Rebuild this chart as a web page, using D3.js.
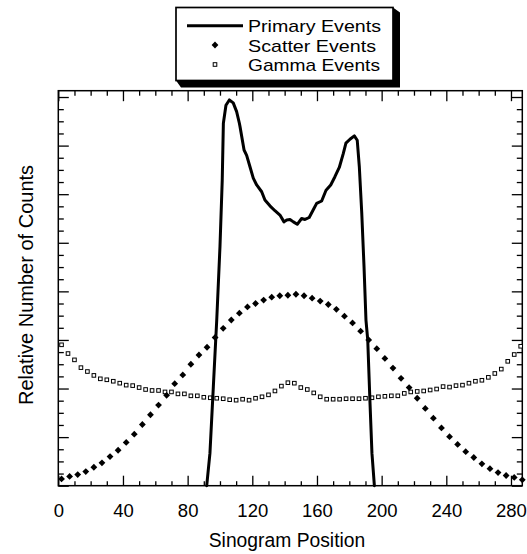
<!DOCTYPE html>
<html>
<head>
<meta charset="utf-8">
<script src="https://cdn.jsdelivr.net/npm/d3@7"></script>
<style>
  html, body { margin: 0; padding: 0; background: #fff; }
  svg { display: block; }
  text { font-family: "Liberation Sans", Arial, Helvetica, sans-serif; fill: #000; }
</style>
</head>
<body>
<svg id="chart" width="527" height="554"></svg>
<script>
// ---- data (y in relative units) ----
const primaryX = [91.8, 93.8, 95.9, 98, 100, 101.4, 102.1, 103.7, 105.8, 108.2, 110.3, 112, 112.4, 114.9, 116.5, 118.6, 120.6, 122.7, 125.8, 127.8, 130.9, 134, 137.1, 139.6, 141.3, 143.3, 145.4, 147.8, 150.5, 152.6, 155.2, 158.2, 159.8, 162.9, 165.6, 168.5, 171.1, 173.8, 176.3, 177.9, 180.4, 183.1, 184.9, 186.2, 187.7, 189.1, 190.3, 191.4, 192.8, 194, 195.5];
const primaryY = [0, 0.67, 2.04, 3.41, 4.92, 6.29, 7.46, 7.83, 7.94, 7.88, 7.70, 7.46, 7.39, 6.91, 6.80, 6.56, 6.33, 6.19, 6.05, 5.88, 5.76, 5.66, 5.57, 5.43, 5.47, 5.48, 5.43, 5.38, 5.50, 5.48, 5.52, 5.71, 5.81, 5.86, 6.08, 6.19, 6.36, 6.55, 6.84, 7.05, 7.13, 7.20, 7.11, 6.56, 5.61, 4.51, 3.41, 3.00, 1.70, 0.67, 0];

const scatterX = [2, 7, 12, 17, 22, 27, 32, 37, 42, 47, 52, 57, 62, 67, 72, 77, 82, 87, 92, 97, 102, 107, 112, 117, 122, 127, 132, 137, 142, 147, 152, 157, 162, 167, 172, 177, 182, 187, 192, 197, 202, 207, 212, 217, 222, 227, 232, 237, 242, 247, 252, 257, 262, 267, 272, 277, 282, 287];
const scatterY = [0.14, 0.19, 0.23, 0.29, 0.38, 0.47, 0.60, 0.73, 0.89, 1.06, 1.26, 1.46, 1.66, 1.86, 2.10, 2.28, 2.50, 2.69, 2.85, 3.05, 3.24, 3.41, 3.55, 3.68, 3.75, 3.82, 3.88, 3.91, 3.92, 3.94, 3.91, 3.86, 3.80, 3.73, 3.63, 3.49, 3.35, 3.18, 3.00, 2.82, 2.62, 2.42, 2.21, 2.02, 1.80, 1.59, 1.39, 1.19, 1.01, 0.85, 0.70, 0.58, 0.45, 0.35, 0.27, 0.21, 0.17, 0.12];

const gammaX = [2, 6, 10, 14, 18, 22, 26, 30, 34, 38, 42, 46, 50, 54, 58, 62, 66, 70, 74, 78, 82, 86, 90, 94, 98, 102, 106, 110, 114, 118, 122, 126, 130, 134, 138, 142, 146, 150, 154, 158, 162, 166, 170, 174, 178, 182, 186, 190, 194, 198, 202, 206, 210, 214, 218, 222, 226, 230, 234, 238, 242, 246, 250, 254, 258, 262, 266, 270, 274, 278, 282, 286];
const gammaY = [2.90, 2.72, 2.59, 2.43, 2.35, 2.27, 2.20, 2.18, 2.15, 2.11, 2.07, 2.06, 2.02, 1.98, 1.96, 1.96, 1.93, 1.93, 1.89, 1.89, 1.85, 1.85, 1.82, 1.81, 1.80, 1.79, 1.77, 1.76, 1.78, 1.76, 1.80, 1.83, 1.87, 1.95, 2.05, 2.12, 2.11, 2.02, 1.98, 1.91, 1.83, 1.78, 1.78, 1.78, 1.79, 1.79, 1.79, 1.80, 1.81, 1.83, 1.84, 1.85, 1.85, 1.90, 1.93, 1.94, 1.95, 1.97, 1.99, 2.04, 2.03, 2.06, 2.07, 2.11, 2.15, 2.17, 2.23, 2.31, 2.40, 2.56, 2.70, 2.87];

const xMajorTicks = [0, 40, 80, 120, 160, 200, 240, 280];
const xMinorTicks = [10, 20, 30, 50, 60, 70, 90, 100, 110, 130, 140, 150, 170, 180, 190, 210, 220, 230, 250, 260, 270];
const yMajorTicks = [0, 1, 2, 3, 4, 5, 6, 7, 8];
const yMinorTicks = [0.25, 0.5, 0.75, 1.25, 1.5, 1.75, 2.25, 2.5, 2.75, 3.25, 3.5, 3.75, 4.25, 4.5, 4.75, 5.25, 5.5, 5.75, 6.25, 6.5, 6.75, 7.25, 7.5, 7.75];
const legendLabels = ["Primary Events", "Scatter Events", "Gamma Events"];
const xTitle = "Sinogram Position";
const yTitle = "Relative Number of Counts";

// ---- layout ----
const L = 58.3, R = 522.3, T = 90.7, B = 485.7;
const svg = d3.select("#chart");

const x = d3.scaleLinear().domain([0, 287]).range([L, R]);
const y = d3.scaleLinear().domain([0, 8.13]).range([B, T]);

// ---- axes (ticks inward) ----
function styleAxis(g) {
  g.select(".domain").remove();
  g.selectAll(".tick line").attr("stroke", "#000").attr("stroke-width", 1.3);
}
const gx = svg.append("g").attr("transform", `translate(0,${B})`);
gx.call(d3.axisBottom(x).tickValues(xMajorTicks).tickSize(-10).tickPadding(0).tickFormat(d3.format("d"))).call(styleAxis);
gx.selectAll(".tick text").attr("dy", null).attr("y", 31).attr("font-size", 18.5)
  .attr("font-family", '"Liberation Sans", Arial, sans-serif').attr("fill", "#000");
svg.append("g").attr("transform", `translate(0,${B})`)
  .call(d3.axisBottom(x).tickValues(xMinorTicks).tickSize(-4.5).tickFormat("")).call(styleAxis);
svg.append("g").attr("transform", `translate(0,${T})`)
  .call(d3.axisTop(x).tickValues(xMajorTicks).tickSize(-10.5).tickFormat("")).call(styleAxis);
svg.append("g").attr("transform", `translate(0,${T})`)
  .call(d3.axisTop(x).tickValues(xMinorTicks).tickSize(-5).tickFormat("")).call(styleAxis);
svg.append("g").attr("transform", `translate(${L},0)`)
  .call(d3.axisLeft(y).tickValues(yMajorTicks).tickSize(-10.5).tickFormat("")).call(styleAxis);
svg.append("g").attr("transform", `translate(${L},0)`)
  .call(d3.axisLeft(y).tickValues(yMinorTicks).tickSize(-5.5).tickFormat("")).call(styleAxis);
svg.append("g").attr("transform", `translate(${R},0)`)
  .call(d3.axisRight(y).tickValues(yMajorTicks).tickSize(-10.5).tickFormat("")).call(styleAxis);
svg.append("g").attr("transform", `translate(${R},0)`)
  .call(d3.axisRight(y).tickValues(yMinorTicks).tickSize(-5.5).tickFormat("")).call(styleAxis);

// frame
svg.append("rect").attr("x", L).attr("y", T).attr("width", R - L).attr("height", B - T)
  .attr("fill", "none").attr("stroke", "#000").attr("stroke-width", 1.5);

// ---- series ----
const gamma = gammaX.map((v, i) => [v, gammaY[i]]);
svg.append("g").selectAll("rect").data(gamma).join("rect")
  .attr("x", d => x(d[0]) - 1.8).attr("y", d => y(d[1]) - 1.8)
  .attr("width", 3.6).attr("height", 3.6)
  .attr("fill", "#fff").attr("stroke", "#000").attr("stroke-width", 1);

const scatter = scatterX.map((v, i) => [v, scatterY[i]]);
const dia = r => `M0,${-r}L${r},0L0,${r}L${-r},0Z`;
svg.append("g").selectAll("path").data(scatter).join("path")
  .attr("transform", d => `translate(${x(d[0])},${y(d[1])})`)
  .attr("d", dia(3.4)).attr("fill", "#000");

const primary = primaryX.map((v, i) => [v, primaryY[i]]);
svg.append("path").datum(primary)
  .attr("d", d3.line().x(d => x(d[0])).y(d => y(d[1])).curve(d3.curveLinear))
  .attr("fill", "none").attr("stroke", "#000").attr("stroke-width", 3)
  .attr("stroke-linejoin", "round").attr("stroke-linecap", "round");

// ---- titles ----
svg.append("text").attr("x", 287).attr("y", 547).attr("text-anchor", "middle")
  .attr("font-size", 19.3).text(xTitle);
svg.append("text").attr("transform", "translate(33,285) rotate(-90)").attr("text-anchor", "middle")
  .attr("font-size", 20).text(yTitle);

// ---- legend ----
const lg = svg.append("g");
const bx0 = 176, by0 = 7.5, bx1 = 393, by1 = 80.5;
lg.append("polygon")
  .attr("points", [[bx1, by0], [bx1 + 7, by0 + 5], [bx1 + 7, by1 + 7], [bx0 + 5, by1 + 7], [bx0, by1], [bx1, by1]].map(p => p.join(",")).join(" "))
  .attr("fill", "#000");
lg.append("rect").attr("x", bx0).attr("y", by0).attr("width", bx1 - bx0).attr("height", by1 - by0)
  .attr("fill", "#fff").attr("stroke", "#000").attr("stroke-width", 1.7);
const rowsY = [25.7, 45, 64.5];
lg.append("line").attr("x1", 187).attr("x2", 243).attr("y1", rowsY[0]).attr("y2", rowsY[0])
  .attr("stroke", "#000").attr("stroke-width", 3);
lg.append("path").attr("transform", `translate(215,${rowsY[1]})`).attr("d", dia(3.4)).attr("fill", "#000");
lg.append("rect").attr("x", 215 - 1.8).attr("y", rowsY[2] - 1.8).attr("width", 3.6).attr("height", 3.6)
  .attr("fill", "#fff").attr("stroke", "#000").attr("stroke-width", 1);
lg.selectAll("text.lab").data(legendLabels).join("text").attr("class", "lab")
  .attr("x", 248).attr("y", (d, i) => [32.3, 51.7, 71.4][i])
  .attr("font-size", 17).attr("textLength", [133, 128, 132]).attr("lengthAdjust", "spacingAndGlyphs")
  .attr("textLength", (d, i) => [133, 128, 132][i])
  .text(d => d);
</script>
</body>
</html>
